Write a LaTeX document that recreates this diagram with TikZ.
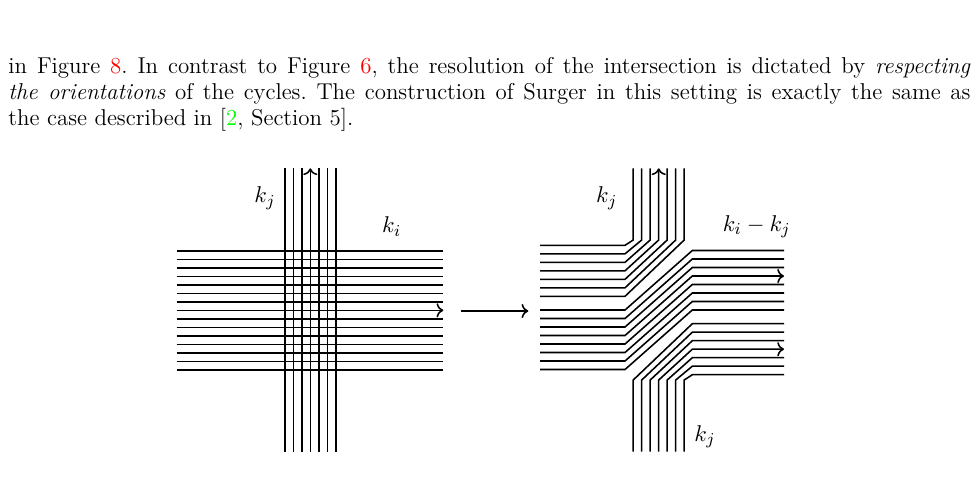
\documentclass[tikz,border=0pt]{standalone}
\usepackage{amsmath,amssymb}
\usepackage{xcolor}
\usetikzlibrary{arrows.meta,positioning,calc}
\definecolor{cRef}{HTML}{FF0000}
\definecolor{cCite}{HTML}{00FF00}
\newcommand{\fref}[1]{\textcolor{cRef}{#1}}
\newcommand{\fcite}[1]{\textcolor{cCite}{#1}}
\tikzset{
  strand/.style={line width=0.75pt, line join=miter},
  lbl/.style={font=\fontsize{11.2}{13}\selectfont, inner sep=0pt},
  para/.style={inner sep=0pt, anchor=base west, font=\fontsize{11}{12.4}\selectfont},
}

\begin{document}
\begin{tikzpicture}[x=0.48pt, y=-0.48pt]
  \useasboundingbox (0,0) rectangle (977,481);
  \node[para] (txt) at (8,73.5) {\parbox[t]{461.8pt}{\parindent=0pt\frenchspacing
    in Figure~\fref{8}. In contrast to Figure~\fref{6}, the resolution of the intersection is dictated by \emph{respecting}\linebreak
    \emph{the orientations} of the cycles. The construction of Surger in this setting is exactly the same as\linebreak
    the case described in [\fcite{2}, Section 5].}};

  % before the surgery
  \coordinate (c1) at (310.3,310.3);
  \begin{scope}[shift={(c1)}]
    \foreach \k/\tip in {-7/-,-6/-,-5/-,-4/-,-3/-,-2/-,-1/-,0/->,1/-,2/-,3/-,4/-,5/-,6/-,7/-}
      \draw[strand,\tip] (-133.6,8.5*\k) -- (133,8.5*\k);
    \foreach \k/\tip in {-3/-,-2/-,-1/-,0/->,1/-,2/-,3/-}
      \draw[strand,\tip] (8.5*\k,141.5) -- (8.5*\k,-142);
  \end{scope}
  \node[lbl] (kj1) at (265,198) {$k_j$};
  \node[lbl] (ki1) at (391.7,226.7) {$k_i$};

  \coordinate (a1) at (460.7,311);
  \coordinate (a2) at (528.3,311);
  \draw[strand,->] (a1) -- (a2);

  % after the surgery
  \coordinate (c2) at (658.7,310);
  \begin{scope}[shift={(c2)}]
    \foreach \k/\tip in {0/-,1/-,2/-,3/->,4/-,5/-,6/-}
      \draw[strand,\tip] (-118.7,-64.7+8.5*\k) -- (-33.7,-64.7+8.5*\k)
        -- (-25.5+8.5*\k,-70) -- (-25.5+8.5*\k,-141.7);
    \foreach \k/\tip in {0/-,1/-,2/-,3/->,4/-,5/-,6/-,7/-}
      \draw[strand,\tip] (-118.7,8.5*\k) -- (-33.7,8.5*\k)
        -- (33.6,-59.5+8.5*\k) -- (125.3,-59.5+8.5*\k);
    \foreach \k/\tip in {0/-,1/-,2/-,3/->,4/-,5/-,6/-}
      \draw[strand,\tip] (25.5-8.5*\k,141.7) -- (25.5-8.5*\k,70)
        -- (33.6,64.7-8.5*\k) -- (125.3,64.7-8.5*\k);
  \end{scope}
  \node[lbl] (kj2) at (606.7,198.3) {$k_j$};
  \node[lbl] (kij) at (756.7,226.7) {$k_i-k_j$};
  \node[lbl] (kj3) at (705,436.7) {$k_j$};
\end{tikzpicture}
\end{document}
